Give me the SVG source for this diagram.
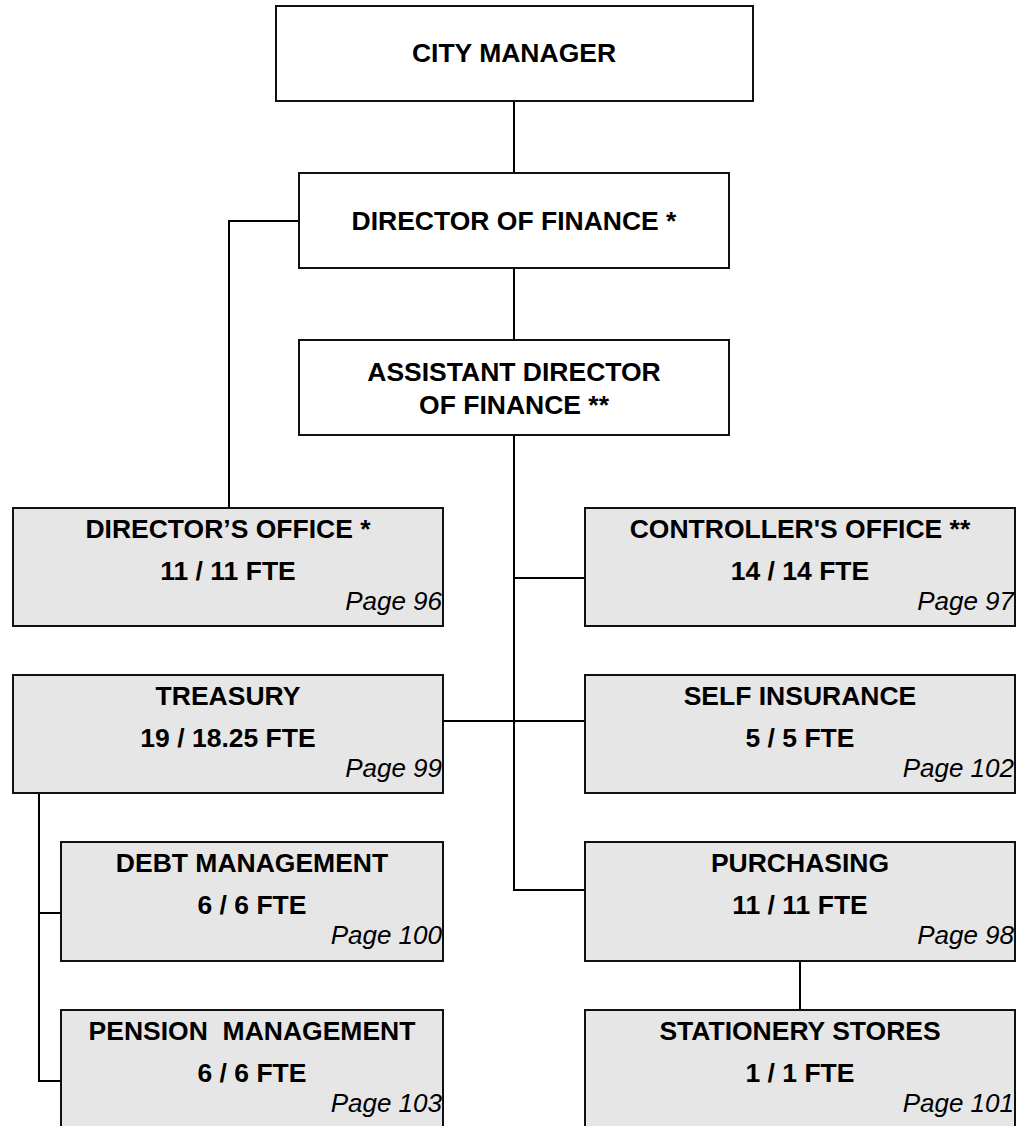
<svg xmlns="http://www.w3.org/2000/svg" width="1020" height="1126" viewBox="0 0 1020 1126">
<style>
.box{fill:#ffffff;stroke:#111;stroke-width:2}
.gbox{fill:#e6e6e6;stroke:#111;stroke-width:2}
.t{font-family:"Liberation Sans",Arial,sans-serif;font-weight:bold;font-size:26.5px;fill:#000;text-anchor:middle}
.p{font-family:"Liberation Sans",Arial,sans-serif;font-style:italic;font-size:26px;fill:#000;text-anchor:end}
.c{fill:none;stroke:#000;stroke-width:2}
</style>
<rect width="1020" height="1126" fill="#ffffff"/>
<g id="connectors">
<path class="c" d="M514 101V173M514 268V340M514 435V890H585M514 578H585M443 721H585M299 221H229V508M39 793V1081H61M39 913H61M800 961V1010"/>
</g>
<g id="city-manager"><rect class="box" x="276" y="6" width="477" height="95"/><text class="t" x="514" y="62">CITY MANAGER</text></g>
<g id="director-of-finance"><rect class="box" x="299" y="173" width="430" height="95"/><text class="t" x="514" y="230">DIRECTOR OF FINANCE *</text></g>
<g id="assistant-director"><rect class="box" x="299" y="340" width="430" height="95"/><text class="t" x="514" y="381">ASSISTANT DIRECTOR</text><text class="t" x="514" y="414">OF FINANCE **</text></g>
<g id="directors-office"><rect class="gbox" x="13" y="508" width="430" height="118"/><text class="t" x="228" y="538">DIRECTOR’S OFFICE *</text><text class="t" x="228" y="580">11 / 11 FTE</text><text class="p" x="442" y="610">Page 96</text></g>
<g id="controllers-office"><rect class="gbox" x="585" y="508" width="430" height="118"/><text class="t" x="800" y="538">CONTROLLER'S OFFICE **</text><text class="t" x="800" y="580">14 / 14 FTE</text><text class="p" x="1014" y="610">Page 97</text></g>
<g id="treasury"><rect class="gbox" x="13" y="675" width="430" height="118"/><text class="t" x="228" y="705">TREASURY</text><text class="t" x="228" y="747">19 / 18.25 FTE</text><text class="p" x="442" y="777">Page 99</text></g>
<g id="self-insurance"><rect class="gbox" x="585" y="675" width="430" height="118"/><text class="t" x="800" y="705">SELF INSURANCE</text><text class="t" x="800" y="747">5 / 5 FTE</text><text class="p" x="1014" y="777">Page 102</text></g>
<g id="debt-management"><rect class="gbox" x="61" y="842" width="382" height="119"/><text class="t" x="252" y="872">DEBT MANAGEMENT</text><text class="t" x="252" y="914">6 / 6 FTE</text><text class="p" x="442" y="944">Page 100</text></g>
<g id="purchasing"><rect class="gbox" x="585" y="842" width="430" height="119"/><text class="t" x="800" y="872">PURCHASING</text><text class="t" x="800" y="914">11 / 11 FTE</text><text class="p" x="1014" y="944">Page 98</text></g>
<g id="pension-management"><rect class="gbox" x="61" y="1010" width="382" height="130"/><text class="t" x="252" y="1040" xml:space="preserve">PENSION  MANAGEMENT</text><text class="t" x="252" y="1082">6 / 6 FTE</text><text class="p" x="442" y="1112">Page 103</text></g>
<g id="stationery-stores"><rect class="gbox" x="585" y="1010" width="430" height="130"/><text class="t" x="800" y="1040">STATIONERY STORES</text><text class="t" x="800" y="1082">1 / 1 FTE</text><text class="p" x="1014" y="1112">Page 101</text></g>
</svg>
